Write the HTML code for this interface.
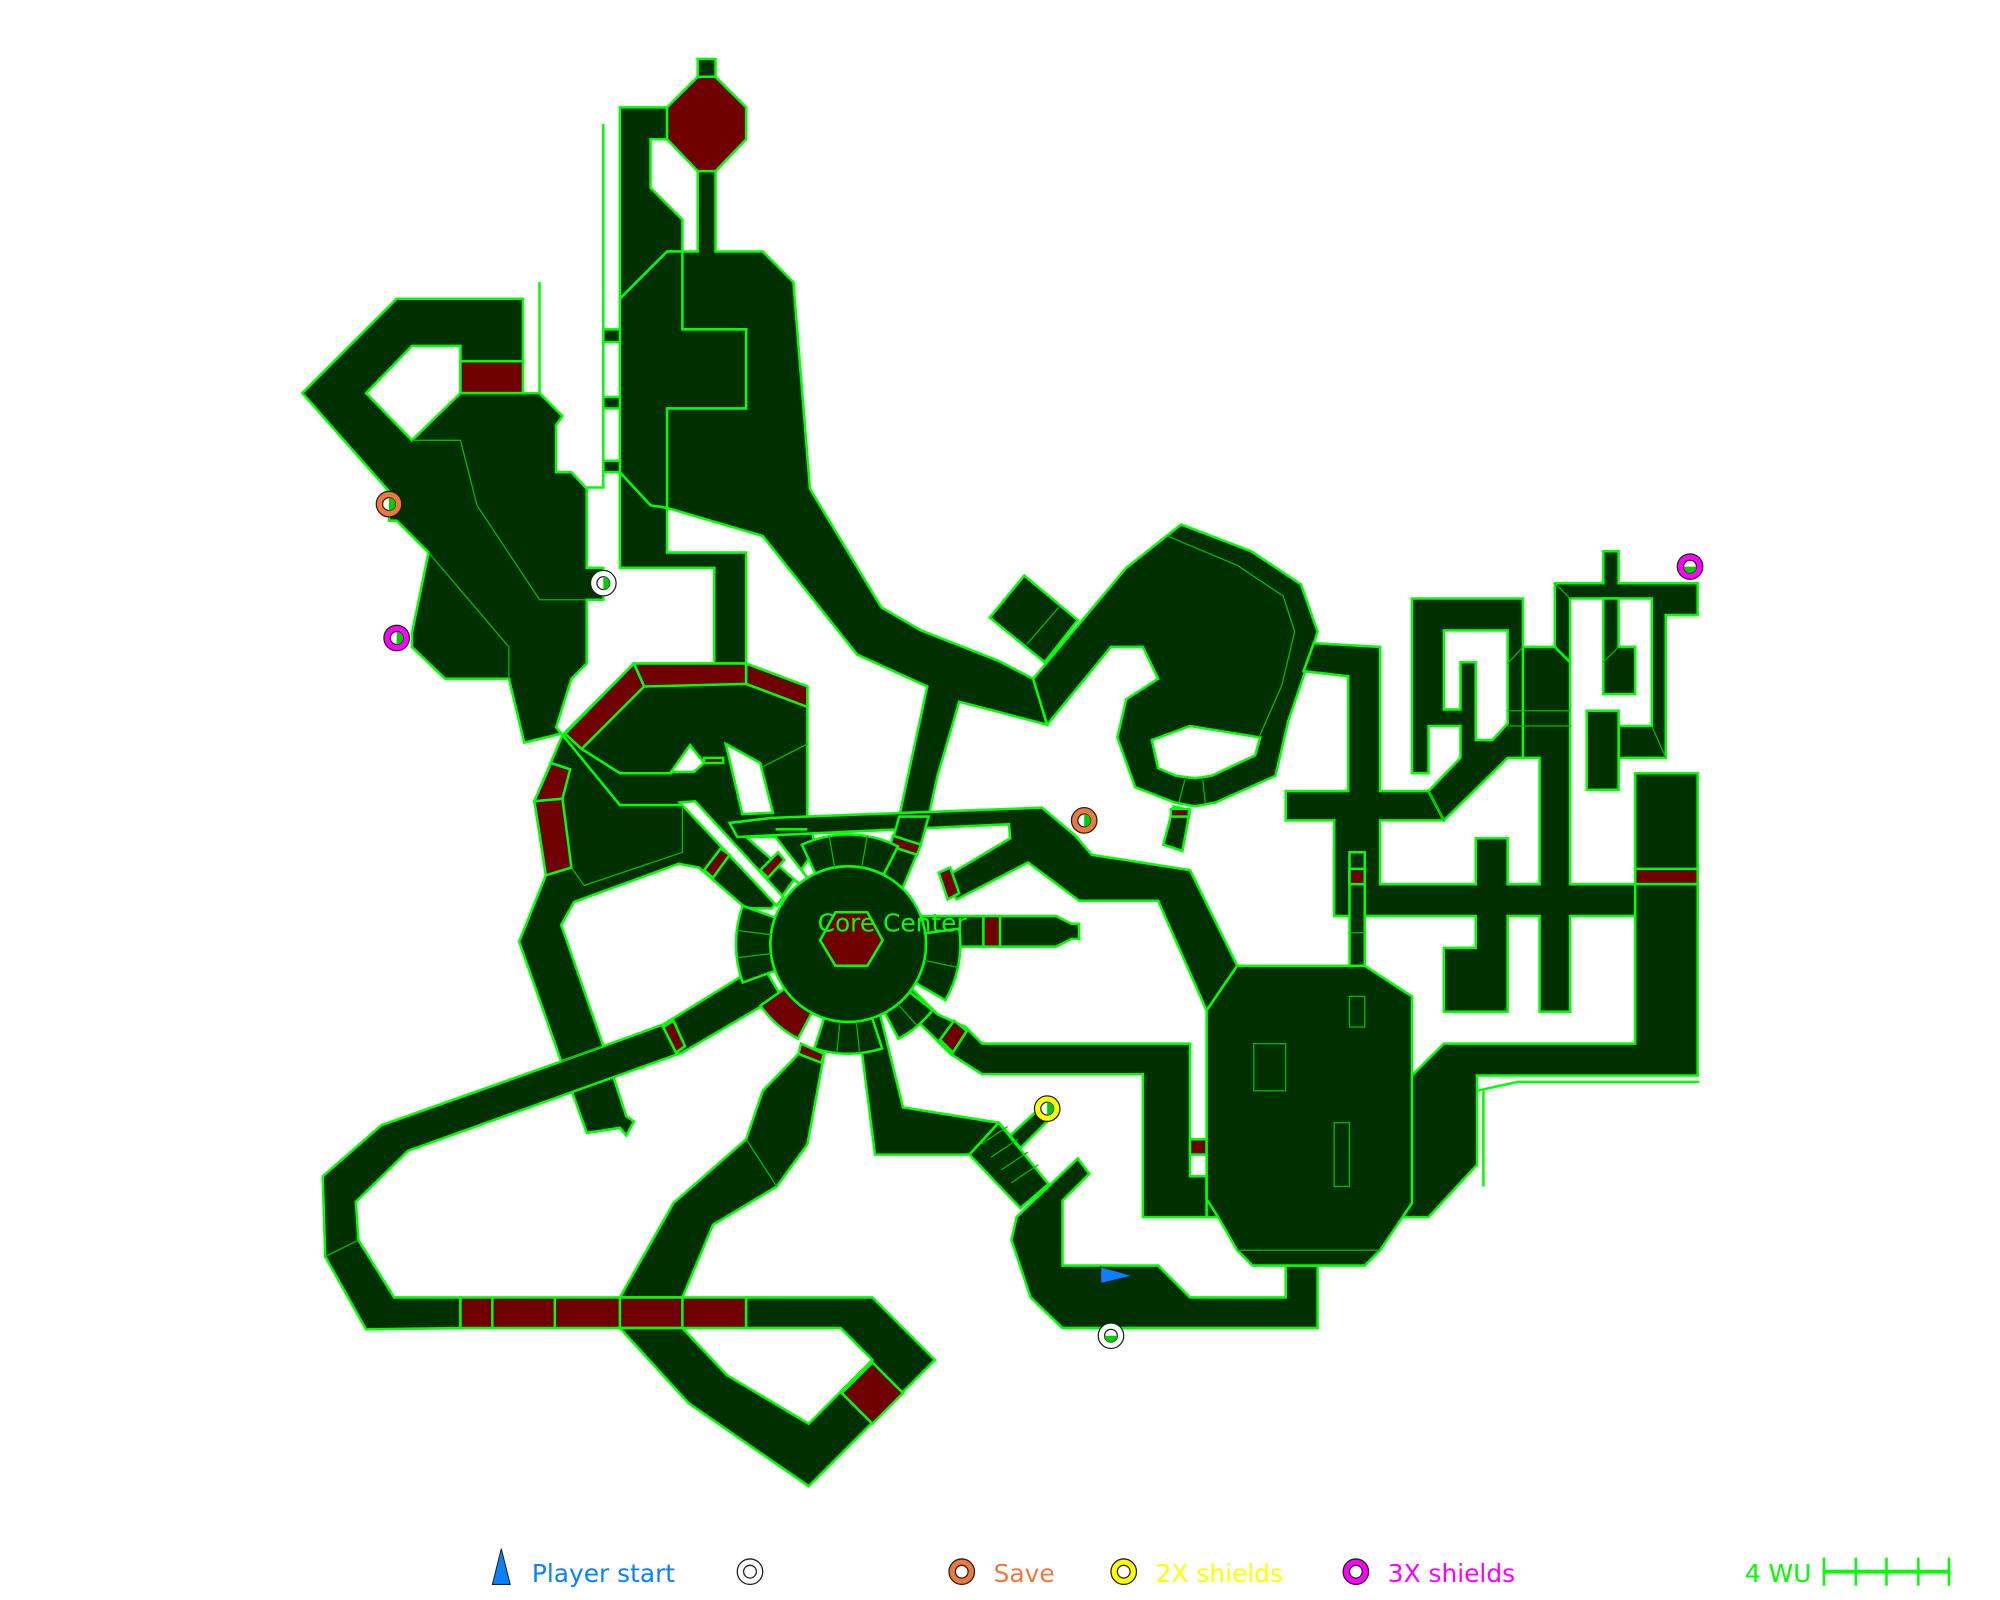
<!DOCTYPE html>
<html><head><meta charset="utf-8"><style>
html,body{margin:0;padding:0;background:#fff;}
svg{display:block;}
</style></head><body>
<svg width="2000" height="1600" viewBox="0 0 1568 1254" xmlns="http://www.w3.org/2000/svg">
<g fill="#003000" stroke="#00ff00" stroke-width="2" stroke-linejoin="miter">
<rect x="547" y="46" width="14" height="14"/>
<polygon points="486,84 523,84 523,109 510,109 510,147 535,172 535,197 523,197 486,234"/>
<polygon points="486,234 523,197 547,197 547,134 561,134 561,197 598,197 622,221 635,383 691,476 722,494 783,518 810,532 821,568 752,550 735,608 728,640 705,640 727,538 672,513 598,420 523,398 523,433 585,433 585,520 560,520 560,445 486,445"/>
<polygon fill="#700000" points="523,84 547,60 561,60 585,84 585,109 561,134 547,134 523,109"/>
<rect x="473" y="258" width="13" height="10"/><rect x="473" y="311" width="13" height="9"/><rect x="473" y="361" width="13" height="9"/>
<polygon points="237,308 311,234 410,234 410,308 423,308 441,326 436,333 436,370 448,370 460,383 460,445 473,445 473,470 460,470 460,520 448,532 436,570 440,575 411,582 399,532 349,532 323,507 323,496 336,433 311,408 305,408 305,385"/>
<polygon fill="#fff" points="287,308 323,271 361,271 361,308 323,345"/>
<rect x="361" y="283" width="49" height="25" fill="#700000"/>
<polygon points="497,520 585,520 633,538 633,640 640,665 615,700 605,712 585,712 548,680 532,677 450,707 440,725 472,817 491,875 497,879 491,890 486,884 460,888 440,832 407,738 428,686 419,628 441,576"/>
<polygon fill="#700000" points="497,520 585,520 585,536 505,538"/>
<polygon fill="#700000" points="585,520 633,538 633,554 585,536"/>
<polygon fill="#700000" points="497,520 505,538 456,587 443,575"/>
<polygon fill="#700000" points="432,598 447,603 441,626 419,628"/>
<polygon fill="#700000" points="419,628 441,626 448,680 428,686"/>
<polygon fill="#fff" points="526,605 541,584 552,598 544,605"/>
<polygon fill="#fff" points="533,629 545,628 614,703 609,710"/>
<polygon fill="#fff" points="569,583 596,598 606,637 582,638"/>
<polygon fill="#fff" points="585,656 608,656 633,688 627,693"/>
<rect x="552" y="594" width="15" height="4" fill="#700000"/>
<polygon fill="#700000" points="552,682 565,665 572,670 559,688"/>
<polygon fill="#700000" points="596,682 610,668 615,674 602,688"/>
<polygon points="605,641 817,633 843,655 856,670 933,682 970,757 946,792 908,706 846,706 806,676 750,705 740,688 792,657 791,646 578,656 572,645"/>
<polygon points="705,640 728,640 722,662 706,700 690,690 700,658"/>
<polygon fill="#700000" points="700,655 722,662 719,670 698,663"/>
<polygon fill="#700000" points="736,684 745,680 752,700 743,705"/>
<polygon points="720,718 828,718 840,724 846,724 846,736 840,736 828,742 752,742 722,737"/>
<rect x="771" y="718" width="13" height="24" fill="#700000"/>
<polygon points="712,772 735,795 757,805 770,818 933,818 933,922 946,922 946,954 896,954 896,842 770,842 745,826 722,803 703,778"/>
<polygon fill="#700000" points="737,815 748,800 758,808 747,825"/>
<rect x="933" y="893" width="13" height="12" fill="#700000"/>
<polygon points="672,795 690,795 708,868 783,880 792,890 760,905 686,905"/>
<polygon points="760,905 783,880 822,928 800,947"/>
<polygon points="792,890 816,868 824,876 800,900"/>
<polygon points="797,954 845,908 854,920 833,941 833,992 908,992 933,1017 1008,1017 1008,992 1033,992 1033,1041 833,1041 808,1017 793,972"/>
<polygon points="627,825 646,827 633,897 609,930 559,960 535,1017 486,1017 528,943 585,893 598,855"/>
<polygon fill="#700000" points="628,818 646,826 644,833 626,826"/>
<polygon points="580,766 600,760 612,780 535,825 320,902 279,942 281,972 309,1017 361,1017 361,1041 287,1042 255,985 253,922 299,882 440,832 520,803"/>
<polygon fill="#700000" points="520,805 528,800 537,820 530,825"/>
<rect x="361" y="1017" width="224" height="24" fill="#700000"/>
<polygon points="585,1017 684,1017 733,1066 634,1165 540,1100 486,1041 535,1041 570,1078 634,1116 684,1066 659,1041 585,1041"/>
<polygon fill="#700000" points="660,1092 684,1068 708,1092 684,1116"/>
<path d="M628.7,662.1 A86,86 0 0 1 704,663.4 L692.7,685.6 A61,61 0 0 0 639.2,684.7 Z"/>
<path d="M582.3,709.9 A88,88 0 0 0 582.3,770.1 L607.7,760.9 A61,61 0 0 1 607.7,719.1 Z"/>
<path d="M752.1,727.8 A88,88 0 0 1 741.2,784 L717.8,770.5 A61,61 0 0 0 725.4,731.5 Z"/>
<path d="M691.6,821.8 A86,86 0 0 1 638.4,821.8 L646.2,798 A61,61 0 0 0 683.8,798 Z"/>
<path d="M731.2,791.7 A84,84 0 0 1 704.4,814.2 L693.6,793.9 A61,61 0 0 0 713.1,777.6 Z"/>
<path fill="#700000" d="M625.6,814.2 A84,84 0 0 1 596.2,788.2 L615,775 A61,61 0 0 0 636.4,793.9 Z"/>
<circle cx="665" cy="740" r="61"/>
<polygon fill="#700000" points="655,715 680,715 692,737 680,757 655,757 643,737"/>
<polygon points="810,532 883,445 926,411 981,432 1020,458 1033,495 1022,530 1010,565 1000,608 953,629 937,632 921,629 890,617 876,578 883,548 908,532 896,507 871,507 821,568"/>
<polygon fill="#fff" points="903,580 933,569 988,578 984,592 950,608 937,610 922,608 908,602"/>
<polygon points="920,632 933,635 927,667 912,662"/>
<rect x="918" y="634" width="14" height="6" fill="#700000"/>
<polygon points="776,484 803,451 845,486 819,519"/>
<polygon points="1030,504 1082,507 1082,620 1120,620 1132,643 1082,643 1082,693 1157,693 1157,657 1182,657 1182,693 1207,693 1207,594 1182,594 1182,507 1219,507 1231,519 1231,693 1331,693 1331,718 1231,718 1231,793 1207,793 1207,718 1182,718 1182,793 1132,793 1132,743 1157,743 1157,718 1046,718 1046,643 1008,643 1008,620 1057,620 1057,530 1022,526"/>
<polygon points="1107,469 1194,469 1194,594 1182,594 1132,643 1120,620 1145,594 1145,569 1120,569 1120,606 1107,606"/>
<polygon fill="#fff" points="1132,494 1182,494 1182,567 1170,580 1157,580 1157,519 1145,519 1145,556 1132,556"/>
<polygon points="1219,457 1257,457 1257,432 1269,432 1269,457 1331,457 1331,482 1306,482 1306,594 1269,594 1269,569 1295,569 1295,469 1231,469 1231,519 1219,507"/>
<polygon points="1257,469 1269,469 1269,507 1282,507 1282,544 1257,544"/>
<rect x="1244" y="557" width="25" height="62"/>
<rect x="1282" y="606" width="49" height="87"/>
<rect x="1282" y="681" width="49" height="12" fill="#700000"/>
<polygon points="1282,693 1331,693 1331,843 1158,843 1158,913 1120,954 946,954 946,922 1095,922 1095,855 1132,818 1282,818"/>
<polygon points="946,792 970,757 1070,757 1107,781 1107,943 1082,980 1070,992 982,992 970,980 955,954 946,940"/>
<rect x="1058" y="668" width="12" height="89"/>
<rect x="1058" y="681" width="12" height="12" fill="#700000"/>
</g>
<g fill="none" stroke="#00ff00" stroke-width="2">
<polyline points="473,97 473,382 460,382"/>
<line x1="423" y1="221" x2="423" y2="308"/>
<polyline points="535,197 535,258 585,258 585,320 523,320 523,398"/>
<polyline points="486,370 510,396 523,398"/>
<polyline points="456,587 486,606 527,606"/>
<polyline points="441,576 486,631 535,631"/>
<line x1="608" y1="650" x2="633" y2="650"/>
<polyline points="1158,855 1190,848 1332,848"/>
<line x1="1163" y1="855" x2="1163" y2="930"/>
<line x1="386" y1="1017" x2="386" y2="1041"/>
<line x1="435" y1="1017" x2="435" y2="1041"/>
<line x1="486" y1="1017" x2="486" y2="1041"/>
<line x1="535" y1="1017" x2="535" y2="1041"/>
</g>
<g fill="none" stroke="#00bb00" stroke-width="1">
<polyline points="323,345 361,345 374,396 423,470 460,470"/>
<polyline points="336,433 399,507 399,532"/>
<polyline points="535,632 535,668 458,694 448,680"/>
<line x1="633" y1="583" x2="598" y2="601"/>
<line x1="805" y1="505" x2="830" y2="476"/>
<polyline points="915,420 970,443 1006,467 1015,495 1005,537 987,578"/>
<line x1="929" y1="611" x2="924" y2="630"/><line x1="943" y1="611" x2="945" y2="630"/>
<line x1="654.4" y1="679.9" x2="650.1" y2="655.3"/><line x1="675.6" y1="679.9" x2="679.9" y2="655.3"/>
<line x1="604.5" y1="747.4" x2="577.7" y2="750.7"/><line x1="604.5" y1="732.6" x2="577.7" y2="729.3"/>
<line x1="724.7" y1="752.7" x2="751.1" y2="758.3"/>
<line x1="671.4" y1="800.7" x2="674" y2="825.5"/><line x1="658.6" y1="800.7" x2="656" y2="825.5"/>
<line x1="704" y1="787" x2="719" y2="804"/>
<line x1="585" y1="893" x2="609" y2="930"/>
<line x1="255" y1="985" x2="281" y2="972"/>
<line x1="440" y1="832" x2="472" y2="820"/>
<line x1="769" y1="897" x2="790" y2="883"/><line x1="777" y1="907" x2="798" y2="893"/><line x1="785" y1="917" x2="806" y2="903"/><line x1="793" y1="927" x2="814" y2="913"/>
<line x1="1182" y1="557" x2="1231" y2="557"/><line x1="1182" y1="569" x2="1231" y2="569"/>
<line x1="1194" y1="507" x2="1182" y2="520"/>
<line x1="1219" y1="457" x2="1231" y2="469"/>
<line x1="1295" y1="569" x2="1306" y2="594"/>
<line x1="1269" y1="507" x2="1257" y2="519"/>
<line x1="1120" y1="620" x2="1132" y2="643"/>
<line x1="970" y1="980" x2="1082" y2="980"/>
<rect x="1058" y="781" width="12" height="24"/>
<rect x="983" y="818" width="25" height="37"/>
<rect x="1046" y="880" width="12" height="50"/>
<line x1="1058" y1="731" x2="1070" y2="731"/>
</g>
<g stroke="#222" stroke-width="1">
<circle cx="305" cy="395" r="10" fill="#f07840"/><circle cx="305" cy="395" r="5" fill="#fff"/>
<circle cx="850" cy="643" r="10" fill="#f07840"/><circle cx="850" cy="643" r="5" fill="#fff"/>
<circle cx="473" cy="457" r="10" fill="#fff"/><circle cx="473" cy="457" r="5" fill="#fff"/>
<circle cx="871" cy="1047" r="10" fill="#fff"/><circle cx="871" cy="1047" r="5" fill="#fff"/>
<circle cx="311" cy="500" r="10" fill="#ff00ff"/><circle cx="311" cy="500" r="5" fill="#fff"/>
<circle cx="1325" cy="444" r="10" fill="#ff00ff"/><circle cx="1325" cy="444" r="5" fill="#fff"/>
<circle cx="821" cy="869" r="10" fill="#ffff00"/><circle cx="821" cy="869" r="5" fill="#fff"/>
</g>
<g fill="#00cc00">
<path d="M305,390 A5,5 0 0 1 305,400 Z"/><path d="M850,638 A5,5 0 0 1 850,648 Z"/>
<path d="M473,452 A5,5 0 0 1 473,462 Z"/><path d="M866,1047 A5,5 0 0 0 876,1047 Z"/>
<path d="M311,495 A5,5 0 0 1 311,505 Z"/><path d="M1320,444 A5,5 0 0 0 1330,444 Z"/>
<path d="M821,864 A5,5 0 0 1 821,874 Z"/>
</g>
<polygon points="863,993 888,1000 863,1006" fill="#0a80ff" stroke="#222" stroke-width="0.8"/>
<text x="641" y="730" font-family="DejaVu Sans, Liberation Sans, sans-serif" font-size="19.5" fill="#00ff00">Core Center</text>
<g font-family="DejaVu Sans, Liberation Sans, sans-serif" font-size="19.5">
<polygon points="386,1242 393,1214 400,1242" fill="#0a80ff" stroke="#222" stroke-width="0.8"/>
<text x="417" y="1240" fill="#0a80ff">Player start</text>
<circle cx="588" cy="1232" r="10" fill="#fff" stroke="#222"/><circle cx="588" cy="1232" r="5" fill="#fff" stroke="#222"/>
<circle cx="754" cy="1232" r="10" fill="#f07840" stroke="#222"/><circle cx="754" cy="1232" r="5" fill="#fff" stroke="#222"/>
<text x="779" y="1240" fill="#f07840">Save</text>
<circle cx="881" cy="1232" r="10" fill="#ffff00" stroke="#222"/><circle cx="881" cy="1232" r="5" fill="#fff" stroke="#222"/>
<text x="906" y="1240" fill="#ffff00">2X shields</text>
<circle cx="1063" cy="1232" r="10" fill="#ff00ff" stroke="#222"/><circle cx="1063" cy="1232" r="5" fill="#fff" stroke="#222"/>
<text x="1088" y="1240" fill="#ff00ff">3X shields</text>
<text x="1368" y="1240" fill="#00ff00">4 WU</text>
<g stroke="#00ff00" stroke-width="2">
<line x1="1430" y1="1232" x2="1528" y2="1232" stroke-width="3"/>
<line x1="1430" y1="1221" x2="1430" y2="1243"/><line x1="1455" y1="1221" x2="1455" y2="1243"/>
<line x1="1479" y1="1221" x2="1479" y2="1243"/><line x1="1504" y1="1221" x2="1504" y2="1243"/>
<line x1="1528" y1="1221" x2="1528" y2="1243"/>
</g>
</g>
</svg>
</body></html>
